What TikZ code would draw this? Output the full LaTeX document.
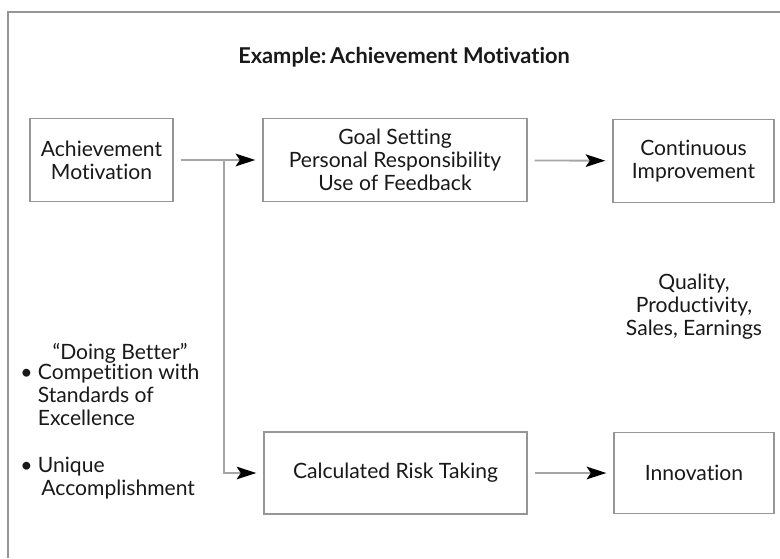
\documentclass[tikz,border=0pt]{standalone}
\usepackage{fontspec}
\setmainfont{Lato}[Ligatures={TeX,NoCommon}]
\usetikzlibrary{arrows.meta}
\definecolor{framegray}{RGB}{150,150,150}
\definecolor{linegray}{RGB}{165,165,165}
\definecolor{inkgray}{RGB}{25,25,25}
\tikzset{
  box/.style={draw=framegray, line width=0.9pt, align=center, inner sep=0pt},
  tip/.style={-{Stealth[length=14pt,width=9pt,inset=3pt,black]}},
  flow/.style={draw=linegray, line width=1.3pt, tip, shorten <=5pt, shorten >=5pt},
  label/.style={align=center, inner sep=0pt}
}
\begin{document}
\begin{tikzpicture}[x=0.025cm, y=-0.025cm, font=\fontsize{15}{16.4}\selectfont, text=inkgray]
\useasboundingbox (0,0) rectangle (780,558);
\fill[white] (0,0) rectangle (780,558);
\path[draw=framegray, line width=1pt] (8,558) -- (8,12) -- (780,12);

\node[label, font=\fontsize{15.5}{16}\selectfont\bfseries] (title) at (404,57) {Example:\,Achievement Motivation};

\node[box, minimum width=3.575cm, minimum height=2.075cm] (ach) at (101.5,160) {Achievement\\Motivation};
\node[box, minimum width=6.6cm, minimum height=2.075cm] (goal) at (395,160) {Goal Setting\\Personal Responsibility\\Use of Feedback};
\node[box, minimum width=4.025cm, minimum height=2.075cm] (cont) at (693.5,161) {Continuous\\Improvement};
\node[box, minimum width=6.575cm, minimum height=2.05cm] (risk) at (395.5,473) {Calculated Risk Taking};
\node[box, minimum width=4.0cm, minimum height=2.025cm] (innov) at (694,473) {Innovation};

\node[label] (quality) at (694,307) {Quality,\\Productivity,\\Sales, Earnings};

\node[label] (doing) at (120,353) {``Doing Better''};
\node[label, align=left, anchor=north west] (comp) at (20,364) {\textbullet\ Competition with\\\hphantom{\textbullet\ }Standards of\\\hphantom{\textbullet\ }Excellence};
\node[label, align=left, anchor=north west] (uniq) at (20,457) {\textbullet\ Unique\\\hphantom{\textbullet\ }\,Accomplishment};

\coordinate (split) at (224,160);

\path[flow] (ach) -- (goal);
\path[flow] (goal) -- (cont);
\path[flow] (risk) -- (innov);
\path[draw=linegray, line width=0.9pt, tip, shorten >=5pt] (split) |- (risk.west);
\end{tikzpicture}
\end{document}
